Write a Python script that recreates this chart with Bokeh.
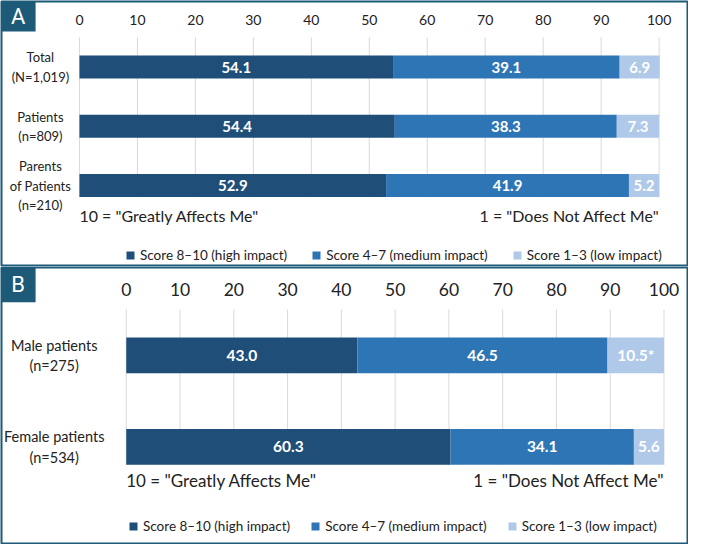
import numpy as np
from bokeh.plotting import figure
from bokeh.models import Range1d, ColumnDataSource, Legend, LegendItem
from bokeh.layouts import column
from bokeh.embed import file_html
from bokeh.resources import INLINE
from bokeh.core.properties import value

# ---------------- data ----------------
ticks = [0, 10, 20, 30, 40, 50, 60, 70, 80, 90, 100]
series_names = ["Score 8\u201310 (high impact)", "Score 4\u20137 (medium impact)", "Score 1\u20133 (low impact)"]
scale_left = '10 = "Greatly Affects Me"'
scale_right = '1 = "Does Not Affect Me"'

a_categories = ["Total\n(N=1,019)", "Patients\n(n=809)", "Parents\nof Patients\n(n=210)"]
a_high = [54.1, 54.4, 52.9]
a_medium = [39.1, 38.3, 41.9]
a_low = [6.9, 7.3, 5.2]
a_low_note = ["", "", ""]

b_categories = ["Male patients\n(n=275)", "Female patients\n(n=534)"]
b_high = [43.0, 60.3]
b_medium = [46.5, 34.1]
b_low = [10.5, 5.6]
b_low_note = ["*", ""]

# ---------------- style ----------------
COLORS = ["#1f4e79", "#2e75b6", "#b0c9e8"]
BORDER = "#1c5a78"
FONT = value("Lato")
TXT = "#222222"
W = 688


def panel(letter, cats, high, med, low, note, H, xr, yr, s):
    p = figure(width=W, height=H, x_range=Range1d(*xr), y_range=Range1d(*yr),
               output_backend="svg", toolbar_location=None,
               x_axis_location=None, y_axis_location=None, min_border=1)
    p.xgrid.visible = False
    p.ygrid.visible = False
    p.outline_line_color = BORDER
    p.outline_line_width = 2
    p.background_fill_color = "white"
    p.border_fill_color = "white"

    n = len(cats)
    ys = list(range(n))

    # grid lines at tick values
    p.segment(x0=ticks, x1=ticks, y0=[-0.5] * len(ticks), y1=[n - 1 + 0.2] * len(ticks),
              line_color="#d9d9d9", line_width=1)

    # tick labels
    p.text(x=ticks, y=[s["tick_y"]] * len(ticks), text=[str(t) for t in ticks],
           text_align="center", text_baseline="middle", text_font=FONT,
           text_font_size=s["tick_fs"], text_color=TXT)

    src = ColumnDataSource(dict(y=ys, high=high, medium=med, low=low))
    rs = p.hbar_stack(["high", "medium", "low"], y="y", height=s["bar_h"],
                      fill_color=COLORS, line_color=None, source=src)

    # value labels centred in each segment
    vals = np.array([high, med, low])
    cum = np.cumsum(vals, axis=0)
    centers = cum - vals / 2
    lx, ly, lt = [], [], []
    for k in range(3):
        for i in range(n):
            lx.append(centers[k, i])
            ly.append(ys[i])
            txt = f"{vals[k, i]:.1f}" + (note[i] if k == 2 else "")
            lt.append(txt)
    p.text(x=lx, y=ly, text=lt, text_align="center", text_baseline="middle",
           text_font=FONT, text_font_style="bold", text_font_size=s["val_fs"],
           text_color="white")

    # category labels
    p.text(x=[s["cat_x"]] * n, y=ys, text=cats, text_align="center", text_baseline="middle",
           text_font=FONT, text_font_size=s["cat_fs"], text_color=TXT, text_line_height=1.2)

    # scale anchors
    p.text(x=[0], y=[s["scale_y"]], text=[scale_left], text_align="left",
           text_baseline="middle", text_font=FONT, text_font_size=s["scale_fs"],
           text_color=TXT)
    p.text(x=[100], y=[s["scale_y"]], text=[scale_right], text_align="right",
           text_baseline="middle", text_font=FONT, text_font_size=s["scale_fs"],
           text_color=TXT)

    # panel letter box
    bx0, bx1, by0, by1 = s["box"]
    p.quad(left=[bx0], right=[bx1], top=[by0], bottom=[by1], fill_color=BORDER, line_color=None)
    p.text(x=[(bx0 + bx1) / 2], y=[(by0 + by1) / 2], text=[letter], text_align="center",
           text_baseline="middle", text_font=value("Roboto"), text_font_size="22px",
           text_color="white")

    legend = Legend(items=[LegendItem(label=nm, renderers=[r]) for nm, r in zip(series_names, rs)],
                    orientation="horizontal", location=s["leg_loc"], padding=0, margin=0,
                    spacing=s["leg_sp"], label_standoff=5, glyph_width=10, glyph_height=10,
                    label_height=14, label_text_font="Lato", label_text_font_size=s["leg_fs"],
                    label_text_color=TXT, border_line_color=None, background_fill_alpha=0)
    p.add_layout(legend)
    return p


pa = panel("A", a_categories, a_high, a_medium, a_low, a_low_note, 266,
           (-13.45, 104.9), (3.349, -1.106),
           dict(tick_y=-0.8, tick_fs="14px", bar_h=0.39, val_fs="15px", cat_x=-6.74,
                cat_fs="13px", scale_y=2.506, scale_fs="16px",
                box=(-13.6, -7.57, -1.12, -0.6), leg_loc=(124, 2), leg_sp=24, leg_fs="13.5px"))

pb = panel("B", b_categories, b_high, b_medium, b_low, b_low_note, 278,
           (-23.2, 104.37), (2.056, -0.959),
           dict(tick_y=-0.717, tick_fs="17.5px", bar_h=0.39, val_fs="15.5px", cat_x=-13.4,
                cat_fs="14.5px", scale_y=1.369, scale_fs="17px",
                box=(-23.4, -16.86, -0.97, -0.579), leg_loc=(127, 9), leg_sp=20, leg_fs="13.5px"))

layout = column(pa, pb, spacing=0)
open("out.html", "w").write(file_html(layout, INLINE))
